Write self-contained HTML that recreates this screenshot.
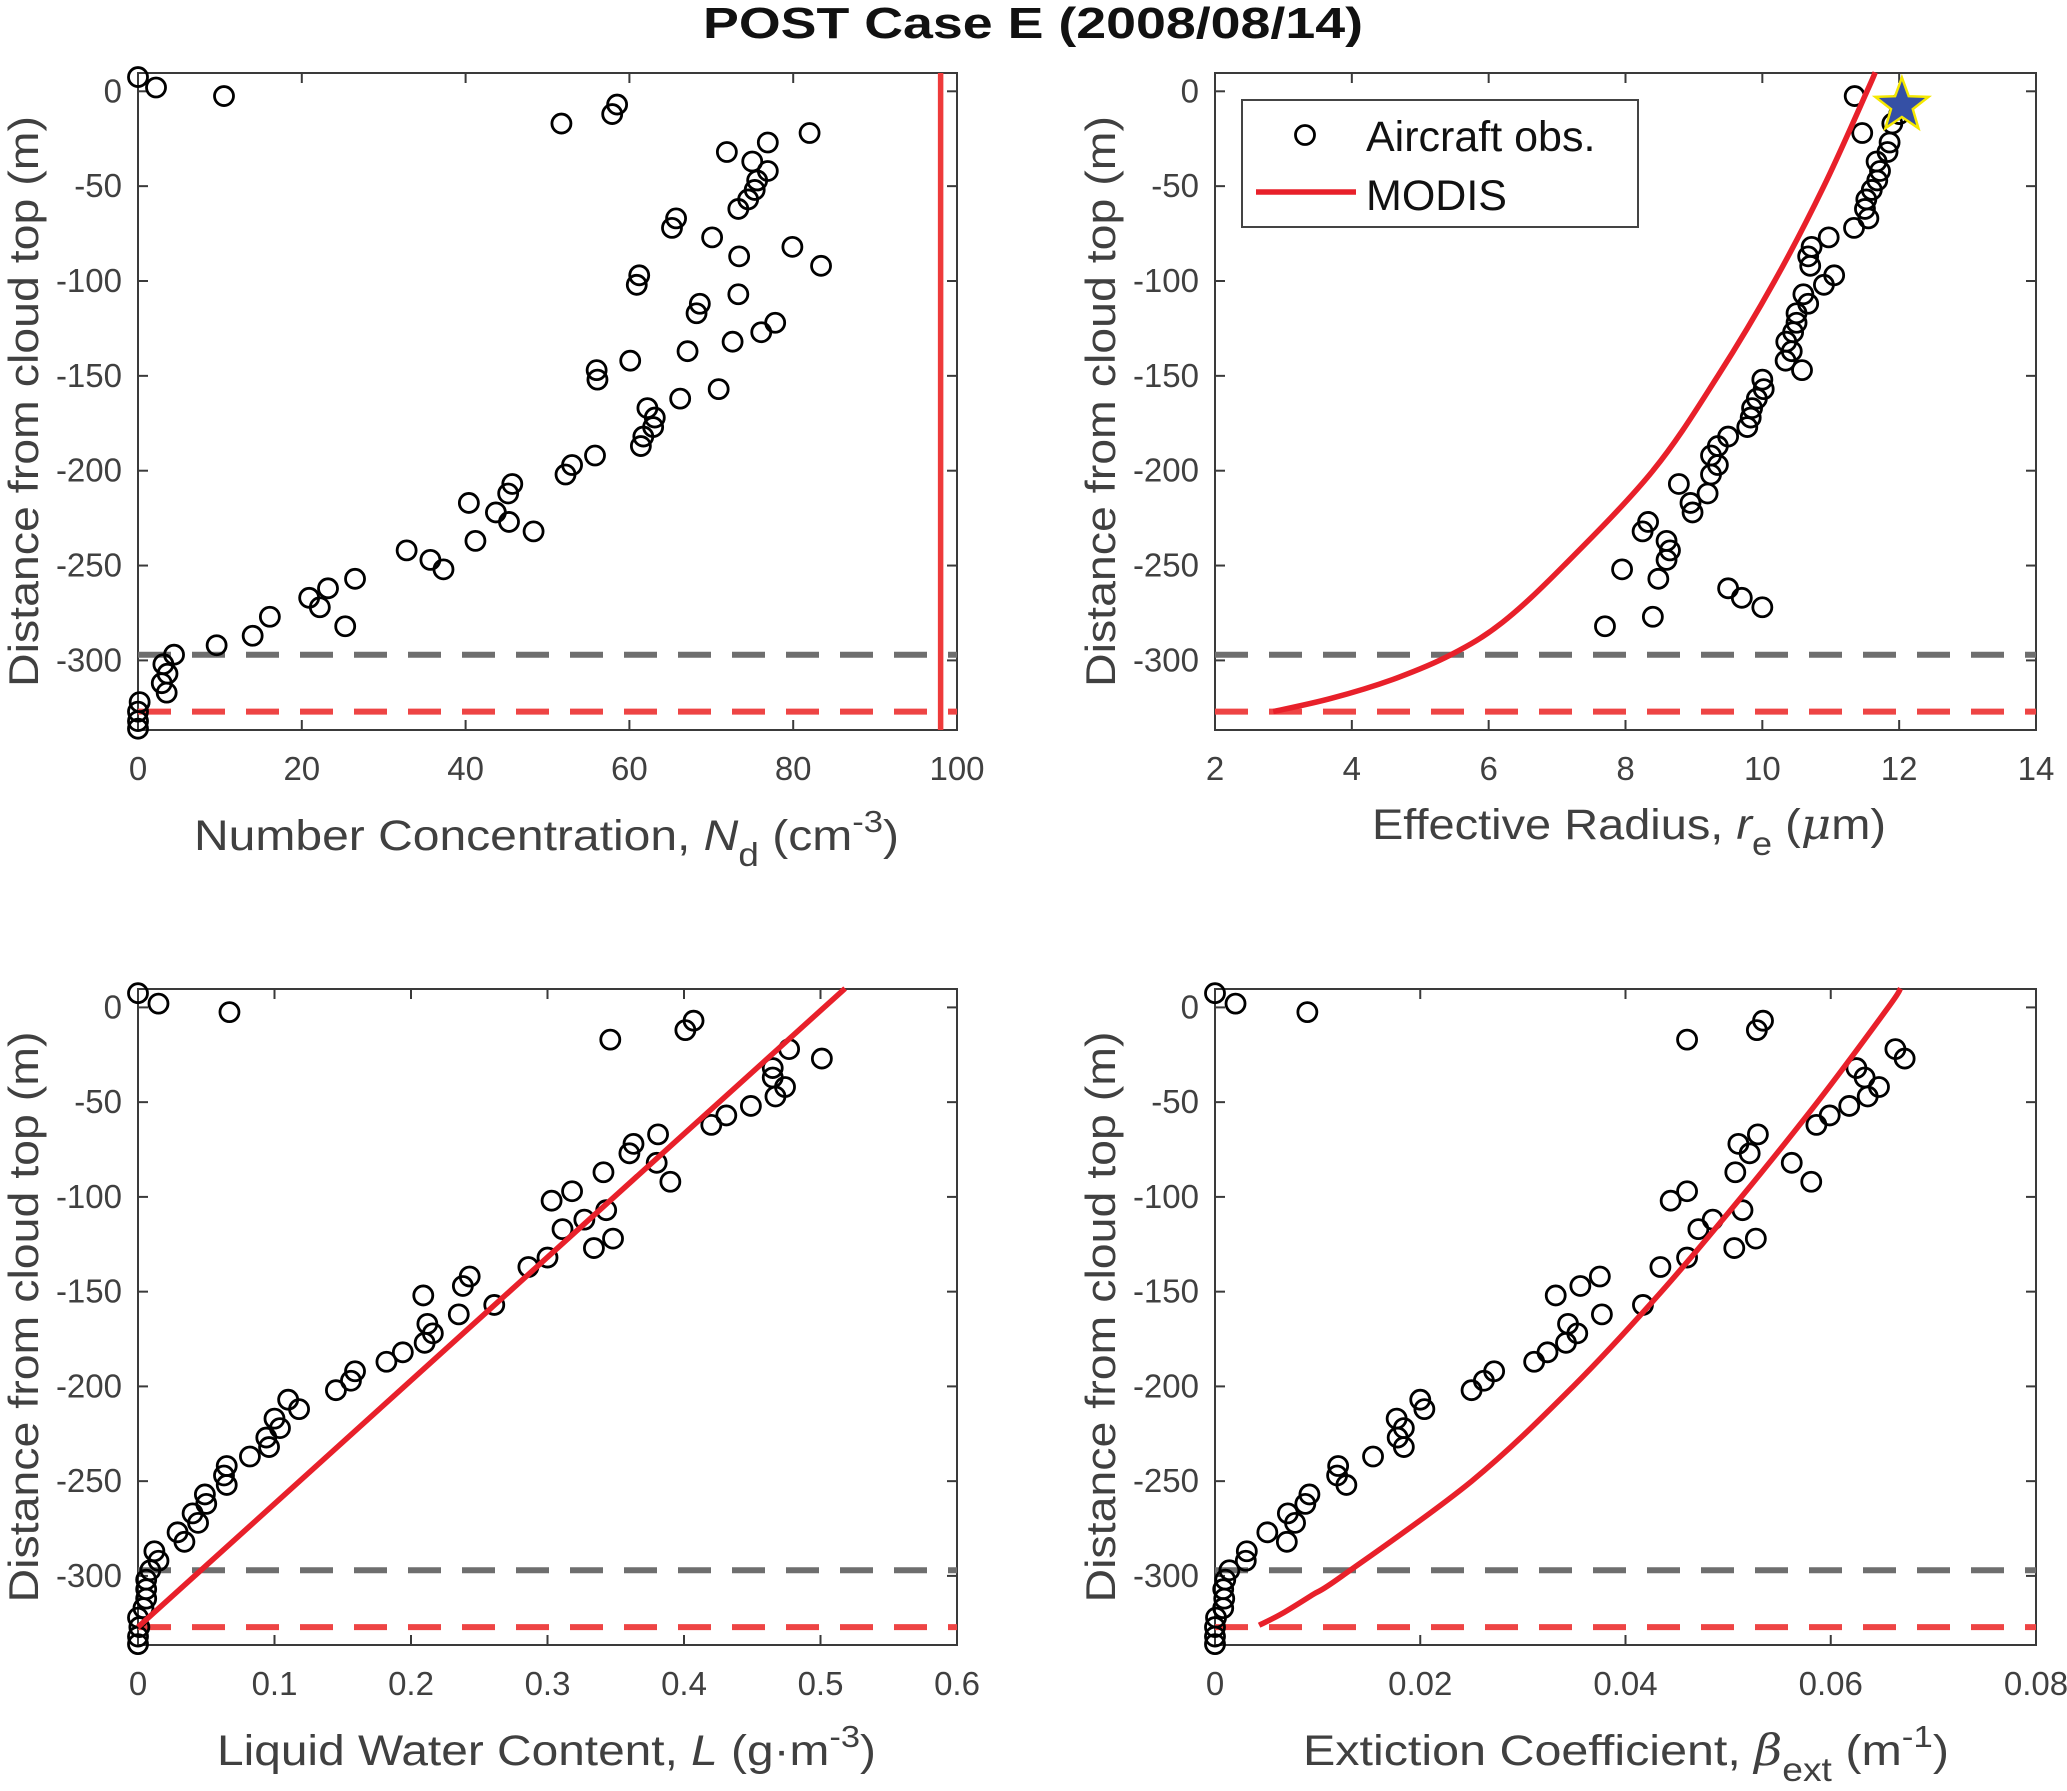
<!DOCTYPE html>
<html><head><meta charset="utf-8"><style>
html,body{margin:0;padding:0;background:#fff;}
svg{display:block;font-family:"Liberation Sans",Arial,sans-serif;}
</style></head><body>
<svg id="fig" width="2067" height="1791" viewBox="0 0 2067 1791" xmlns="http://www.w3.org/2000/svg">
<rect width="2067" height="1791" fill="#fff"/>
<text x="1033" y="38" text-anchor="middle" font-size="44" font-weight="bold" fill="#111" textLength="660" lengthAdjust="spacingAndGlyphs">POST Case E (2008/08/14)</text>
</svg>
<script>
// shared heights (m from cloud top)
const zVals = [7.5,2,-2.5,-7,-12,-17,-22,-27,-32,-37,-42,-47,-52,-57,-62,-67,-72,-77,-82,-87,-92,-97,-102,-107,-112,-117,-122,-127,-132,-137,-142,-147,-152,-157,-162,-167,-172,-177,-182,-187,-192,-197,-202,-207,-212,-217,-222,-227,-232,-237,-242,-247,-252,-257,-262,-267,-272,-277,-282,-287,-292,-297,-302,-307,-312,-317,-322,-327,-332,-336];
const ndVals = [0,2.2,10.5,58.5,57.9,51.7,82,76.9,71.9,75,76.9,75.6,75.3,74.5,73.3,65.7,65.2,70.1,79.9,73.4,83.4,61.2,60.9,73.3,68.6,68.2,77.8,76.1,72.6,67.1,60.1,56,56.1,70.9,66.2,62.2,63.1,62.9,61.7,61.4,55.8,53,52.2,45.7,45.2,40.4,43.7,45.3,48.3,41.2,32.8,35.7,37.3,26.5,23.2,20.9,22.2,16.1,25.3,14,9.6,4.4,3.1,3.6,2.9,3.5,0.2,0,0,0];
const reVals = [null,null,11.35,12.0,12.0,11.9,11.46,11.86,11.83,11.67,11.72,11.68,11.6,11.52,11.5,11.55,11.34,10.97,10.72,10.67,10.7,11.05,10.9,10.6,10.67,10.5,10.5,10.45,10.35,10.43,10.34,10.58,10.0,10.02,9.92,9.85,9.83,9.78,9.5,9.35,9.25,9.35,9.25,8.78,9.2,8.95,8.98,8.33,8.25,8.6,8.65,8.6,7.95,8.48,9.5,9.7,10.0,8.4,7.7,null,null,null,null,null,null,null,null,null,null,null];
const lwcVals = [0,0.015,0.067,0.407,0.401,0.346,0.477,0.501,0.465,0.465,0.474,0.467,0.449,0.431,0.420,0.381,0.363,0.360,0.380,0.341,0.390,0.318,0.303,0.343,0.327,0.311,0.348,0.334,0.300,0.286,0.243,0.238,0.209,0.261,0.235,0.212,0.216,0.210,0.194,0.182,0.159,0.156,0.145,0.110,0.118,0.100,0.104,0.094,0.096,0.082,0.065,0.063,0.065,0.049,0.050,0.040,0.044,0.029,0.034,0.012,0.015,0.009,0.006,0.006,0.006,0.004,0.0,0.001,0,0];
const betaVals = [0,0.002,0.009,0.0534,0.0528,0.046,0.0663,0.0672,0.0625,0.0633,0.0647,0.0636,0.0618,0.0599,0.0586,0.0529,0.0510,0.0521,0.0562,0.0507,0.0581,0.046,0.0444,0.0514,0.0485,0.0471,0.0527,0.0506,0.046,0.0434,0.0375,0.0356,0.0332,0.0417,0.0377,0.0344,0.0353,0.0342,0.0324,0.0311,0.0272,0.0262,0.025,0.020,0.0204,0.0177,0.0184,0.0178,0.0184,0.0154,0.012,0.0119,0.0128,0.0092,0.0088,0.0071,0.0078,0.0051,0.007,0.0031,0.003,0.0014,0.001,0.0008,0.0009,0.0008,0.0001,0,0,0];
// MODIS curves
const modisNd = [98];
const modisReZ = [-327,-320,-310,-297,-280,-250,-200,-150,-100,-50,0,10];
const modisRe = [2.85,3.7,4.6,5.45,6.2,7.1,8.4,9.35,10.18,10.9,11.53,11.65];
const modisLwcZ = [-327,10];
const modisLwc = [0,0.518];
const modisBetaZ = [-326,-320,-310,-300,-250,-200,-150,-100,-50,0,10];
const modisBeta = [0.0043,0.0065,0.0095,0.0124,0.025,0.0349,0.0435,0.0513,0.0587,0.0656,0.0668];
const starRe = [12.04], starZ = [-7.5];
const baseGray = -297, baseRed = -327;
const yTicks = [0,-50,-100,-150,-200,-250,-300];

const NS='http://www.w3.org/2000/svg';
const svg=document.getElementById('fig');
function mk(tag,attrs,parent){const e=document.createElementNS(NS,tag);for(const k in attrs)e.setAttribute(k,attrs[k]);(parent||svg).appendChild(e);return e;}

const panels=[
 {id:'nd',L:138,R:957,T:73,B:730,y0:91.3,ys:1.897,xmin:0,xmax:100,xt:[0,20,40,60,80,100],fmt:v=>String(v),vals:ndVals},
 {id:'re',L:1215,R:2036,T:73,B:730,y0:91.3,ys:1.897,xmin:2,xmax:14,xt:[2,4,6,8,10,12,14],fmt:v=>String(v),vals:reVals},
 {id:'lwc',L:138,R:957,T:989,B:1645,y0:1007.4,ys:1.895,xmin:0,xmax:0.6,xt:[0,0.1,0.2,0.3,0.4,0.5,0.6],fmt:v=>v===0?'0':v.toFixed(1),vals:lwcVals},
 {id:'beta',L:1215,R:2036,T:989,B:1645,y0:1007.4,ys:1.895,xmin:0,xmax:0.08,xt:[0,0.02,0.04,0.06,0.08],fmt:v=>v===0?'0':v.toFixed(2),vals:betaVals}
];
panels.forEach(p=>{
 p.x=v=>p.L+(v-p.xmin)/(p.xmax-p.xmin)*(p.R-p.L);
 p.y=z=>p.y0-z*p.ys;
 const g=mk('g',{});
 
 
 const ax=mk('g',{},g);
 
 
 mk('rect',{x:p.L,y:p.T,width:p.R-p.L,height:p.B-p.T,fill:'none',stroke:'#3a3a3a','stroke-width':2},ax);
 p.xt.forEach(v=>{
  const X=p.x(v);
  mk('line',{x1:X,y1:p.B,x2:X,y2:p.B-10,stroke:'#3a3a3a','stroke-width':2},ax);
  mk('line',{x1:X,y1:p.T,x2:X,y2:p.T+10,stroke:'#3a3a3a','stroke-width':2},ax);
  const t=mk('text',{x:X,y:p.B+50,'text-anchor':'middle','font-size':33,fill:'#404040'},ax);
  
  
  t.textContent=p.fmt(v);
 });
 yTicks.forEach(v=>{
  const Y=p.y(v);
  mk('line',{x1:p.L,y1:Y,x2:p.L+10,y2:Y,stroke:'#3a3a3a','stroke-width':2},ax);
  mk('line',{x1:p.R,y1:Y,x2:p.R-10,y2:Y,stroke:'#3a3a3a','stroke-width':2},ax);
  const t=mk('text',{x:p.L-16,y:Y+11,'text-anchor':'end','font-size':33,fill:'#404040'},ax);
  
  
  t.textContent=String(v);
 });
 const yl=mk('text',{transform:`translate(${p.L-100},${(p.T+p.B)/2}) rotate(-90)`,'text-anchor':'middle','font-size':42,fill:'#404040',textLength:571,lengthAdjust:'spacingAndGlyphs'},g);
 
 
 yl.textContent='Distance from cloud top (m)';
 const cg=mk('g',{},g);
 const gl=mk('line',{x1:p.L,x2:p.R,y1:p.y(baseGray),y2:p.y(baseGray),stroke:'#6e6e6e','stroke-width':6,'stroke-dasharray':'33 21'},cg);
 
 
 const rl=mk('line',{x1:p.L,x2:p.R,y1:p.y(baseRed),y2:p.y(baseRed),stroke:'#ee4444','stroke-width':6,'stroke-dasharray':'33 21'},cg);
 
 
 p.vals.forEach((v,i)=>{
  if(v===null)return;
  const c=mk('circle',{cx:p.x(v),cy:p.y(zVals[i]),r:9.5,fill:'none',stroke:'#000','stroke-width':2.8},g);
  
  
 });
});
function curve(p,xs,zs,name){
 const P=xs.map((v,i)=>[p.x(v),p.y(zs[i])]);
 let d='M'+P[0][0].toFixed(1)+','+P[0][1].toFixed(1);
 for(let i=0;i<P.length-1;i++){
  const p0=P[Math.max(0,i-1)],p1=P[i],p2=P[i+1],p3=P[Math.min(P.length-1,i+2)];
  const c1=[p1[0]+(p2[0]-p0[0])/6,p1[1]+(p2[1]-p0[1])/6];
  const c2=[p2[0]-(p3[0]-p1[0])/6,p2[1]-(p3[1]-p1[1])/6];
  d+=' C'+c1.map(v=>v.toFixed(1)).join(',')+' '+c2.map(v=>v.toFixed(1)).join(',')+' '+p2.map(v=>v.toFixed(1)).join(',');
 }
 const e=mk('path',{d:d,fill:'none',stroke:'#e8202a','stroke-width':5.5,'stroke-linejoin':'round'});
 
 
}
{const p=panels[0];const X=p.x(modisNd[0]);
 const e=mk('line',{x1:X,x2:X,y1:p.T,y2:p.B,stroke:'#ee3a3a','stroke-width':5.5});
 
 }
curve(panels[1],modisRe,modisReZ,'modis-re-curve');
curve(panels[2],modisLwc,modisLwcZ,'modis-lwc-curve');
curve(panels[3],modisBeta,modisBetaZ,'modis-beta-curve');
{const p=panels[1];const cx=p.x(starRe[0]),cy=p.y(starZ[0]);let pts=[];
 for(let k=0;k<10;k++){const r=k%2?11.5:28;const a=-Math.PI/2+k*Math.PI/5;pts.push((cx+r*Math.cos(a)).toFixed(1)+','+(cy+r*Math.sin(a)).toFixed(1));}
 const s=mk('polygon',{points:pts.join(' '),fill:'#3550a5',stroke:'#f5e800','stroke-width':2.5});
 
 }
function xlabel(html,x,y,len,name){const t=mk('text',{x:x,y:y,'font-size':43,fill:'#404040',textLength:len,lengthAdjust:'spacingAndGlyphs'});t.innerHTML=html;}
xlabel('Number Concentration,  <tspan font-style="italic">N</tspan><tspan dy="16" font-size="33">d</tspan><tspan dy="-16"> (cm</tspan><tspan dy="-18" font-size="31">-3</tspan><tspan dy="18">)</tspan>',194,850,705,'x-axis-title-nd');
xlabel('Effective Radius, <tspan font-style="italic">r</tspan><tspan dy="16" font-size="33">e</tspan><tspan dy="-16"> (</tspan><tspan font-family="DejaVu Serif" font-style="italic">μ</tspan><tspan>m)</tspan>',1372,839,514,'x-axis-title-re');
xlabel('Liquid Water Content,  <tspan font-style="italic">L</tspan> (g·m<tspan dy="-18" font-size="31">-3</tspan><tspan dy="18">)</tspan>',217,1765,659,'x-axis-title-lwc');
xlabel('Extiction Coefficient,  <tspan font-family="DejaVu Serif" font-style="italic">β</tspan><tspan dy="16" font-size="33">ext</tspan><tspan dy="-16"> (m</tspan><tspan dy="-18" font-size="31">-1</tspan><tspan dy="18">)</tspan>',1303,1765,646,'x-axis-title-beta');
{const g=mk('g',{});
 mk('rect',{x:1242,y:100,width:396,height:127,fill:'#fff',stroke:'#444','stroke-width':2},g);
 const c=mk('circle',{cx:1305,cy:135,r:9.5,fill:'none',stroke:'#000','stroke-width':2.8},g);
 
 const t1=mk('text',{x:1366,y:151,'font-size':43,fill:'#111'},g);t1.textContent='Aircraft obs.';
 
 const l=mk('line',{x1:1256,x2:1356,y1:192,y2:192,stroke:'#e8202a','stroke-width':5.5},g);
 
 const t2=mk('text',{x:1366,y:210,'font-size':43,fill:'#111'},g);t2.textContent='MODIS';
 }
</script>
</body></html>
